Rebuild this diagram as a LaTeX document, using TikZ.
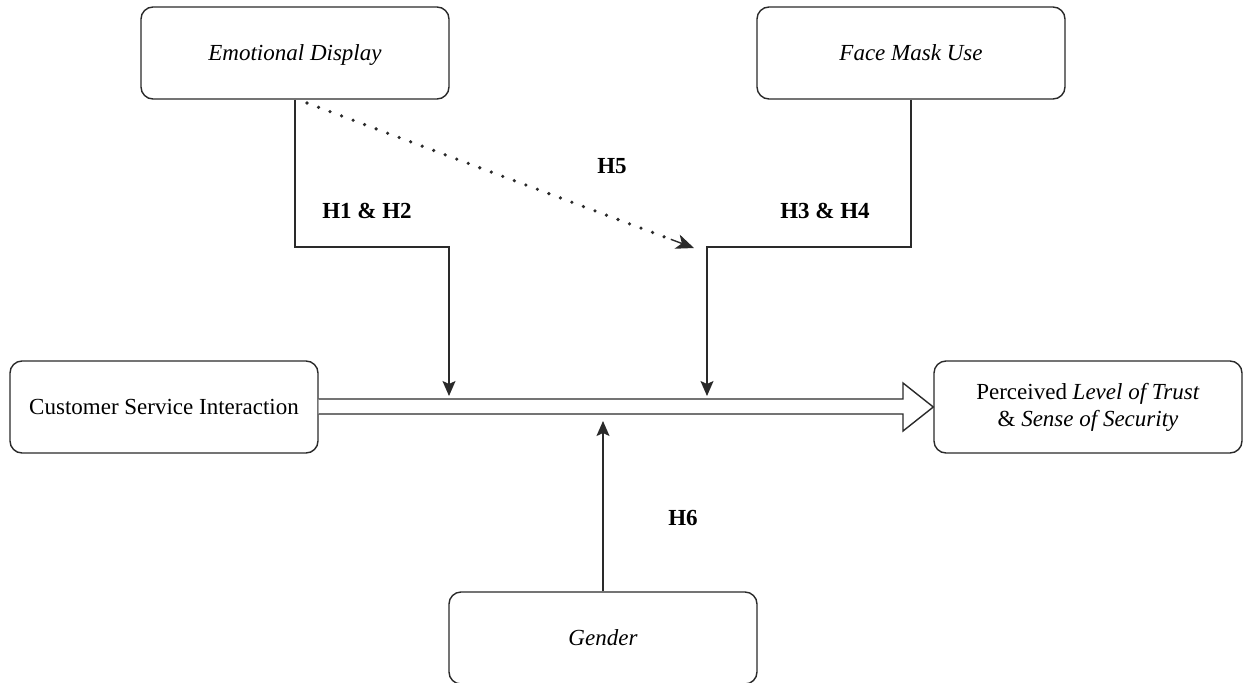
\documentclass[tikz,border=0pt]{standalone}
\usepackage{fontspec}
\setmainfont{Liberation Serif}
\usetikzlibrary{arrows.meta,calc}
\definecolor{ln}{HTML}{2A2A2A}
\tikzset{
  box/.style={draw=ln, line width=1.4pt, rounded corners=12pt, minimum width=308pt, minimum height=92pt, inner sep=0pt, align=center, font=\fontsize{23}{27}\selectfont},
  conn/.style={draw=ln, line width=1.4pt},
  tip/.style={-{Stealth[length=15pt,width=13pt,inset=3pt]}},
  hlab/.style={font=\fontsize{23}{27}\selectfont\bfseries, inner sep=0pt}
}
\begin{document}
\begin{tikzpicture}[x=1pt,y=-1pt]
\useasboundingbox (0,0) rectangle (1243,683);
\node[box, text height=16pt, text depth=2pt] (emo) at (295,53) {\textit{Emotional Display}};
\node[box, text height=16pt, text depth=2pt] (mask) at (911,53) {\textit{Face Mask Use}};
\node[box] (csi) at (164,407) {Customer Service Interaction};
\node[box] (trust) at (1088,407) {Perceived \textit{Level of Trust}\\\& \textit{Sense of Security}};
\node[box] (gen) at (603,638) {\textit{Gender}};

% hollow big arrow
\coordinate (s1) at (csi.east |- 0,399);
\coordinate (s2) at (csi.east |- 0,414);
\draw[conn, fill=white] (s1) -- (903,399) -- (903,383) -- (trust.west) -- (903,431) -- (903,414) -- (s2);

\coordinate (m1) at (449,396);
\coordinate (m2) at (707,396);
\coordinate (m3) at (603,421);
\coordinate (d0) at (307,103);
\coordinate (dt) at (694,248);

\draw[conn, tip] (emo.south) -- (295,247) -- (449,247) -- (m1);
\draw[conn, tip] (mask.south) -- (911,247) -- (707,247) -- (m2);
\draw[conn, tip] (gen.north) -- (m3);
\draw[ln, line width=3.6pt, line cap=round, dash pattern=on 0pt off 12.3pt] (d0) -- ($(d0)!0.95!(dt)$);
\draw[ln, line width=1.4pt, -{Stealth[length=18pt,width=15pt,inset=5pt]}] ($(d0)!0.94!(dt)$) -- (dt);

\node[hlab] (h12) at (367,211) {H1 \& H2};
\node[hlab] (h5) at (612,166) {H5};
\node[hlab] (h34) at (825,211) {H3 \& H4};
\node[hlab] (h6) at (683,518) {H6};
\end{tikzpicture}
\end{document}
